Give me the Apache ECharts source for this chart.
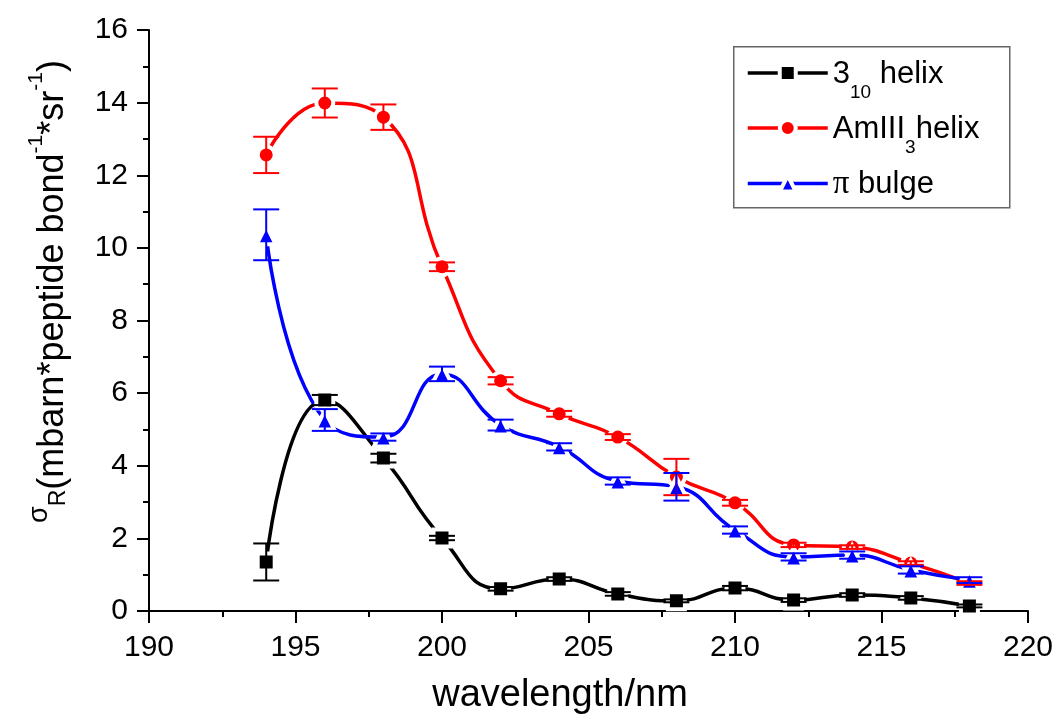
<!DOCTYPE html>
<html><head><meta charset="utf-8">
<script src="https://cdn.jsdelivr.net/npm/echarts@6/dist/echarts.min.js"></script>
<style>html,body{margin:0;padding:0;background:#fff}#c{width:1058px;height:717px}</style>
</head><body><div id="c"></div>
<script>
// ---- data ----
const wavelengths = [194, 196, 198, 200, 202, 204, 206, 208, 210, 212, 214, 216, 218];
const helix310    = [1.35, 5.81, 4.21, 2.01, 0.61, 0.88, 0.47, 0.28, 0.63, 0.30, 0.44, 0.36, 0.14];
const helix310Err = [0.51, 0.14, 0.12, 0.06, 0.05, 0.05, 0.05, 0.04, 0.06, 0.05, 0.05, 0.05, 0.04];
const amIII3      = [12.56, 13.99, 13.60, 9.48, 6.34, 5.43, 4.79, 3.69, 2.98, 1.82, 1.76, 1.32, 0.77];
const amIII3Err   = [0.50, 0.40, 0.35, 0.12, 0.10, 0.08, 0.08, 0.50, 0.08, 0.06, 0.05, 0.05, 0.05];
const piBulge     = [10.36, 5.26, 4.79, 6.53, 5.12, 4.52, 3.58, 3.42, 2.23, 1.49, 1.54, 1.13, 0.85];
const piBulgeErr  = [0.70, 0.30, 0.10, 0.20, 0.15, 0.10, 0.10, 0.38, 0.10, 0.10, 0.10, 0.10, 0.08];
const seriesNames = ['3_10 helix', 'AmIII_3 helix', 'π bulge'];
const xTicks = { min: 190, max: 220, step: 5 };
const yTicks = { min: 0, max: 16, step: 2 };

const FONT = 'Liberation Sans, Arial, sans-serif';
const pairs = (vals) => wavelengths.map((w, i) => [w, vals[i]]);
const errs = (vals, e) => wavelengths.map((w, i) => [w, vals[i] - e[i], vals[i] + e[i]]);

function errorSeries(color, vals, e) {
  return {
    type: 'custom',
    z: 4,
    silent: true,
    encode: { x: 0, y: [1, 2] },
    data: errs(vals, e),
    renderItem: function (params, api) {
      const x = api.value(0);
      const top = api.coord([x, api.value(2)]);
      const bot = api.coord([x, api.value(1)]);
      const hw = 13;
      const st = { stroke: color, lineWidth: 2 };
      return {
        type: 'group',
        children: [
          { type: 'line', shape: { x1: top[0], y1: top[1], x2: bot[0], y2: bot[1] }, style: st },
          { type: 'line', shape: { x1: top[0] - hw, y1: top[1], x2: top[0] + hw, y2: top[1] }, style: st },
          { type: 'line', shape: { x1: bot[0] - hw, y1: bot[1], x2: bot[0] + hw, y2: bot[1] }, style: st }
        ]
      };
    }
  };
}

function lineSeries(name, color, symbol, size, vals) {
  return {
    type: 'line',
    name: name,
    data: pairs(vals),
    smooth: 0.5,
    symbol: symbol,
    symbolSize: size,
    z: 3,
    lineStyle: { color: color, width: 3.5 },
    itemStyle: { color: color, borderColor: '#fff', borderWidth: 4 },
    emphasis: { disabled: true }
  };
}

const legendLabels = {
  '3_10 helix': '{m|3}{sub|10}{m| helix}',
  'AmIII_3 helix': '{m|AmIII}{sub|3}{m|helix}',
  'π bulge': '{pi|π}{m| bulge}'
};

const chart = echarts.init(document.getElementById('c'), null, { renderer: 'canvas' });
chart.setOption({
  animation: false,
  backgroundColor: '#fff',
  textStyle: { fontFamily: FONT, color: '#000' },
  grid: { left: 149, right: 30, top: 30, bottom: 106, containLabel: false, outerBoundsMode: 'none' },
  graphic: [{
    type: 'rect', left: 733, top: 46, z: 0,
    shape: { width: 276, height: 161 },
    style: { fill: '#fff', stroke: '#666', lineWidth: 1.5 }
  }],
  legend: {
    data: seriesNames,
    orient: 'vertical',
    left: 746, top: 44,
    padding: 0,
    itemWidth: 80, itemHeight: 20, itemGap: -3,
    selectedMode: false,
    lineStyle: { width: 3.5 },
    itemStyle: { borderWidth: 4, borderColor: '#fff' },
    formatter: (n) => legendLabels[n],
    textStyle: {
      fontFamily: FONT, color: '#000', fontSize: 31,
      rich: {
        m: { fontFamily: FONT, fontSize: 31, lineHeight: 32, padding: [14, 0, 12, 0], color: '#000' },
        sub: { fontFamily: FONT, fontSize: 19, lineHeight: 19, padding: [39, 0, 0, 0], color: '#000' },
        pi: { fontFamily: 'Liberation Serif, serif', fontSize: 33, lineHeight: 32, padding: [14, 0, 12, 0], color: '#000' }
      }
    }
  },
  xAxis: {
    type: 'value', min: xTicks.min, max: xTicks.max, interval: xTicks.step,
    name: 'wavelength/nm', nameLocation: 'middle', nameGap: 65,
    nameTextStyle: { fontFamily: FONT, fontSize: 38, lineHeight: 40, color: '#000', padding: [0, 57, 0, 0] },
    axisLine: { show: true, onZero: false, lineStyle: { color: '#000', width: 2 } },
    axisTick: { show: true, inside: false, length: 12, lineStyle: { color: '#000', width: 2 } },
    minorTick: { show: true, splitNumber: 2, length: 6, lineStyle: { color: '#000', width: 2 } },
    axisLabel: { fontFamily: FONT, fontSize: 30, color: '#000', margin: 22 },
    splitLine: { show: false }
  },
  yAxis: {
    type: 'value', min: yTicks.min, max: yTicks.max, interval: yTicks.step,
    name: '{sig|σ}{sub|R}{m|(mbarn*peptide bond}{sup|-1}{m|*sr}{sup|-1}{m|)}',
    nameLocation: 'middle', nameRotate: 90, nameGap: 81,
    nameTextStyle: {
      fontFamily: FONT, color: '#000', padding: [0, 0, 0, 58],
      rich: {
        m: { fontFamily: FONT, fontSize: 36, lineHeight: 40, padding: [11, 0, 1, 0], color: '#000' },
        sig: { fontFamily: FONT, fontSize: 27, lineHeight: 28, padding: [4, 0, 20, 0], color: '#000' },
        sub: { fontFamily: FONT, fontSize: 23, lineHeight: 24, padding: [25, 0, 3, 0], color: '#000' },
        sup: { fontFamily: FONT, fontSize: 21, lineHeight: 22, padding: [3, 0, 27, 0], color: '#000' }
      }
    },
    axisLine: { show: true, onZero: false, lineStyle: { color: '#000', width: 2 } },
    axisTick: { show: true, inside: false, length: 12, lineStyle: { color: '#000', width: 2 } },
    minorTick: { show: true, splitNumber: 2, length: 6, lineStyle: { color: '#000', width: 2 } },
    axisLabel: { fontFamily: FONT, fontSize: 30, color: '#000', margin: 21 },
    splitLine: { show: false }
  },
  series: [
    lineSeries(seriesNames[0], '#000000', 'rect', 17, helix310),
    lineSeries(seriesNames[1], '#ff0000', 'circle', 17, amIII3),
    lineSeries(seriesNames[2], '#0000ff', 'triangle', 19, piBulge),
    errorSeries('#000000', helix310, helix310Err),
    errorSeries('#ff0000', amIII3, amIII3Err),
    errorSeries('#0000ff', piBulge, piBulgeErr)
  ]
});
</script>
</body></html>
